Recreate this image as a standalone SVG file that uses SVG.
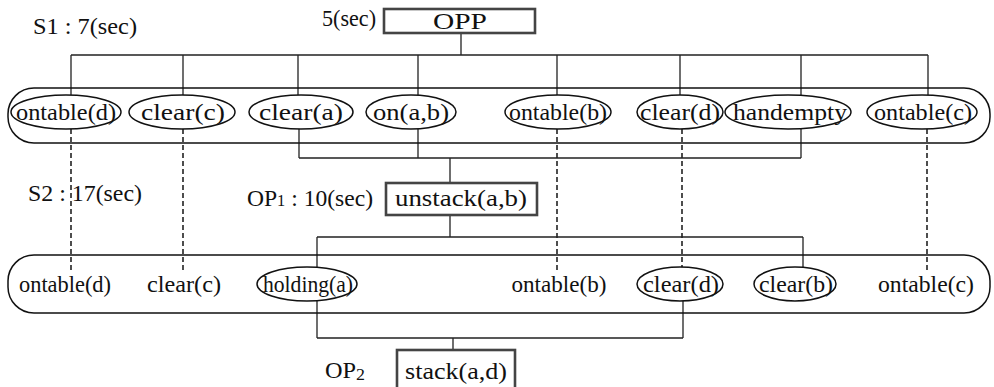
<svg xmlns="http://www.w3.org/2000/svg" width="994" height="387" viewBox="0 0 994 387">
<style>
text{font-family:"Liberation Serif","Times New Roman",serif;font-size:23px;fill:#111;text-anchor:middle}
.l{text-anchor:start}
.e{fill:none;stroke:#111;stroke-width:1.5}
.c{fill:none;stroke:#222;stroke-width:1.3}
.d{fill:none;stroke:#222;stroke-width:1.6;stroke-dasharray:5,3}
.b{fill:#fff;stroke:#444;stroke-width:2.6}
.s{fill:none;stroke:#111;stroke-width:1.5}
</style>
<rect width="994" height="387" fill="#fff"/>
<g id="connectors">
<path class="c" d="M461,33V55M71,55H928M71,55V95M183,55V95M298,55V95M418,55V95M557,55V95M680,55V95M801,55V95M928,55V95"/>
<path class="c" d="M299,129V158M418,129V158M801,129V158M299,158H801M450,158V183"/>
<path class="c" d="M450,215V237M317,237H803M317,237V267M803,237V268"/>
<path class="c" d="M317,301V338M683,301V338M317,338H683M453,338V350"/>
<path class="d" d="M71,129V272M183,129V272M557,129V272M682,129V267M927,129V272"/>
</g>
<g id="S1">
<rect class="s" x="8" y="88" width="982" height="55" rx="26"/>
<text class="l" x="33" y="34" textLength="104" lengthAdjust="spacingAndGlyphs">S1 : 7(sec)</text>
</g>
<g id="S2">
<rect class="s" x="8" y="255" width="982" height="58" rx="26"/>
<text class="l" x="28" y="201" textLength="114" lengthAdjust="spacingAndGlyphs">S2 : 17(sec)</text>
</g>
<g id="OPP">
<text class="l" x="322" y="26" textLength="54" lengthAdjust="spacingAndGlyphs">5(sec)</text>
<rect class="b" x="384" y="9" width="151" height="24"/>
<text x="460" y="29" textLength="54" lengthAdjust="spacingAndGlyphs">OPP</text>
</g>
<g id="s1-ontable-d"><ellipse class="e" cx="66" cy="112" rx="55" ry="17"/><text x="66" y="120" textLength="100" lengthAdjust="spacingAndGlyphs">ontable(d)</text></g>
<g id="s1-clear-c"><ellipse class="e" cx="182" cy="112" rx="53" ry="17"/><text x="183" y="120" textLength="84" lengthAdjust="spacingAndGlyphs">clear(c)</text></g>
<g id="s1-clear-a"><ellipse class="e" cx="301" cy="112" rx="52" ry="17"/><text x="301" y="120" textLength="84" lengthAdjust="spacingAndGlyphs">clear(a)</text></g>
<g id="s1-on-a-b"><ellipse class="e" cx="411" cy="112" rx="45" ry="17"/><text x="411" y="120" textLength="76" lengthAdjust="spacingAndGlyphs">on(a,b)</text></g>
<g id="s1-ontable-b"><ellipse class="e" cx="558" cy="112" rx="53" ry="17"/><text x="558" y="120" textLength="98" lengthAdjust="spacingAndGlyphs">ontable(b)</text></g>
<g id="s1-clear-d"><ellipse class="e" cx="680" cy="112" rx="43" ry="17"/><text x="680" y="120" textLength="80" lengthAdjust="spacingAndGlyphs">clear(d)</text></g>
<g id="s1-handempty"><ellipse class="e" cx="788" cy="112" rx="63" ry="17"/><text x="790" y="120" textLength="114" lengthAdjust="spacingAndGlyphs">handempty</text></g>
<g id="s1-ontable-c"><ellipse class="e" cx="922" cy="112" rx="55" ry="17"/><text x="923" y="120" textLength="98" lengthAdjust="spacingAndGlyphs">ontable(c)</text></g>
<g id="OP1">
<text class="l" x="247" y="206" textLength="126" lengthAdjust="spacingAndGlyphs">OP<tspan font-size="16">1</tspan> : 10(sec)</text>
<rect class="b" x="386" y="183" width="151" height="32"/>
<text x="461" y="206" textLength="132" lengthAdjust="spacingAndGlyphs">unstack(a,b)</text>
</g>
<g id="s2-ontable-d"><text x="65" y="292" textLength="92" lengthAdjust="spacingAndGlyphs">ontable(d)</text></g>
<g id="s2-clear-c"><text x="184" y="292" textLength="74" lengthAdjust="spacingAndGlyphs">clear(c)</text></g>
<g id="s2-holding-a"><ellipse class="e" cx="307" cy="284" rx="50" ry="17"/><text x="308" y="292" textLength="90" lengthAdjust="spacingAndGlyphs">holding(a)</text></g>
<g id="s2-ontable-b"><text x="559" y="292" textLength="95" lengthAdjust="spacingAndGlyphs">ontable(b)</text></g>
<g id="s2-clear-d"><ellipse class="e" cx="680" cy="284" rx="43" ry="17"/><text x="681" y="292" textLength="76" lengthAdjust="spacingAndGlyphs">clear(d)</text></g>
<g id="s2-clear-b"><ellipse class="e" cx="795" cy="284" rx="41" ry="17"/><text x="796" y="292" textLength="74" lengthAdjust="spacingAndGlyphs">clear(b)</text></g>
<g id="s2-ontable-c"><text x="926" y="292" textLength="96" lengthAdjust="spacingAndGlyphs">ontable(c)</text></g>
<g id="OP2">
<text class="l" x="325" y="378" textLength="40" lengthAdjust="spacingAndGlyphs">OP<tspan font-size="17" dy="2">2</tspan></text>
<rect class="b" x="397" y="350" width="118" height="40"/>
<text x="456" y="379" textLength="102" lengthAdjust="spacingAndGlyphs">stack(a,d)</text>
</g>
</svg>
